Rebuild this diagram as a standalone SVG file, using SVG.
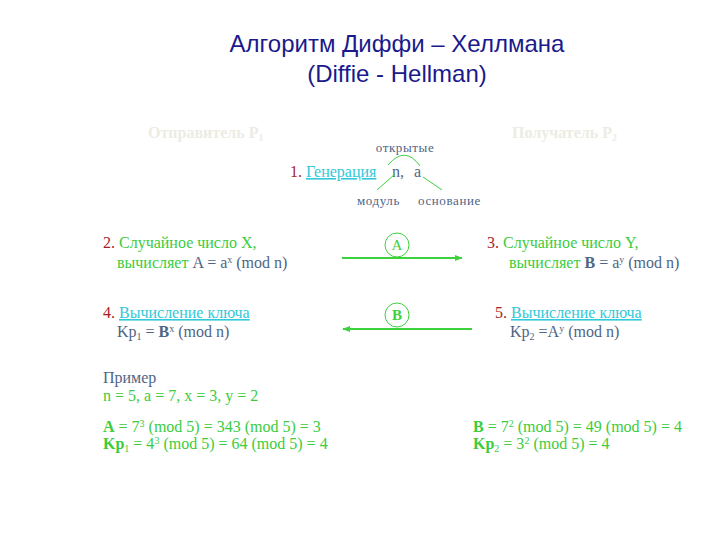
<svg xmlns="http://www.w3.org/2000/svg" width="720" height="540" viewBox="0 0 720 540">
<style>
.title{font-family:"Liberation Sans","Open Sans",sans-serif;font-size:24px;fill:#1a1a8c;text-anchor:middle}
.t{font-family:"Liberation Serif","DejaVu Serif",serif;font-size:16px;fill:#4e6585}
.sm{font-family:"Liberation Serif","DejaVu Serif",serif;font-size:13px;letter-spacing:0.6px;fill:#4e6585}
.hd{font-family:"Liberation Serif","DejaVu Serif",serif;font-size:16px;font-weight:bold;fill:#ecece4}
.r{fill:#a81e1e}
.g{fill:#3ccc3c}
.c{fill:#33c8d8;text-decoration:underline}
.b{font-weight:bold}
.sup{font-size:10px;baseline-shift:super}
.sub{font-size:10px;baseline-shift:-3px}
.ln{stroke:#3cd23c;stroke-width:2;fill:none}
.thin{stroke:#3cd23c;stroke-width:1;fill:none}
.circ{fill:#3cd23c;font-family:"Liberation Serif","DejaVu Serif",serif;font-size:15px;text-anchor:middle}
</style>
<defs>
<marker id="ah" viewBox="0 0 10 10" refX="9" refY="5" markerWidth="4" markerHeight="4" orient="auto-start-reverse" markerUnits="strokeWidth">
<path d="M0,1 L10,5 L0,9 z" fill="#3cd23c"/>
</marker>
</defs>
<rect width="720" height="540" fill="#ffffff"/>
<g id="title">
<text class="title" x="397" y="52">Алгоритм Диффи – Хеллмана</text>
<text class="title" x="397" y="82">(Diffie - Hellman)</text>
</g>
<g id="sender"><text class="hd" x="148" y="138">Отправитель P<tspan class="sub">1</tspan></text></g>
<g id="receiver"><text class="hd" x="512" y="138">Получатель P<tspan class="sub">2</tspan></text></g>
<g id="step1">
<text class="sm" x="405" y="152" text-anchor="middle">открытые</text>
<text class="t" x="290" y="177"><tspan class="r">1. </tspan><tspan class="c">Генерация</tspan><tspan x="392">n,</tspan><tspan x="414">a</tspan></text>
<text class="sm" x="357" y="205">модуль</text>
<text class="sm" x="418" y="205">основание</text>
</g>
<g id="step2">
<text class="t" x="103" y="248"><tspan class="r">2. </tspan><tspan class="g">Случайное число X,</tspan></text>
<text class="t" x="117" y="268"><tspan class="g">вычисляет</tspan>  A = a<tspan class="sup">x</tspan> (mod n)</text>
</g>
<g id="step3">
<text class="t" x="487" y="248"><tspan class="r">3. </tspan><tspan class="g">Случайное число Y,</tspan></text>
<text class="t" x="509" y="268"><tspan class="g">вычисляет</tspan>  <tspan class="b">B</tspan> = a<tspan class="sup">y</tspan> (mod n)</text>
</g>
<g id="step4">
<text class="t" x="103" y="318"><tspan class="r">4. </tspan><tspan class="c">Вычисление ключа</tspan></text>
<text class="t" x="117" y="337">Kp<tspan class="sub">1</tspan> = <tspan class="b">B</tspan><tspan class="sup">x</tspan> (mod n)</text>
</g>
<g id="step5">
<text class="t" x="495" y="318"><tspan class="r">5. </tspan><tspan class="c">Вычисление ключа</tspan></text>
<text class="t" x="510" y="337">Kp<tspan class="sub">2</tspan> =A<tspan class="sup">y</tspan> (mod n)</text>
</g>
<g id="msgA">
<circle cx="397" cy="245" r="12" class="thin"/>
<text class="circ" x="397" y="250">A</text>
</g>
<g id="msgB">
<circle cx="397" cy="315" r="12" class="thin"/>
<text class="circ b" x="397" y="320">B</text>
</g>
<g id="example">
<text class="t" x="103" y="383">Пример</text>
<text class="t g" x="103" y="401">n = 5, a = 7, x = 3, y = 2</text>
<text class="t g" x="103" y="432"><tspan class="b">A</tspan> = 7<tspan class="sup">3</tspan> (mod 5) = 343 (mod 5) = 3</text>
<text class="t g" x="103" y="449"><tspan class="b">Kp</tspan><tspan class="sub">1</tspan> = 4<tspan class="sup">3</tspan> (mod 5) = 64 (mod 5) = 4</text>
<text class="t g" x="473" y="432"><tspan class="b">B</tspan> = 7<tspan class="sup">2</tspan> (mod 5) = 49 (mod 5) = 4</text>
<text class="t g" x="473" y="449"><tspan class="b">Kp</tspan><tspan class="sub">2</tspan> = 3<tspan class="sup">2</tspan> (mod 5) = 4</text>
</g>
<g id="connectors">
<path class="thin" d="M388,165 Q405,145 420,166"/>
<line class="thin" x1="395" y1="174" x2="377" y2="190"/>
<line class="thin" x1="423" y1="177" x2="442" y2="190"/>
<line class="ln" x1="342" y1="258" x2="462" y2="258" marker-end="url(#ah)"/>
<line class="ln" x1="472" y1="329" x2="343" y2="329" marker-end="url(#ah)"/>
</g>
</svg>
